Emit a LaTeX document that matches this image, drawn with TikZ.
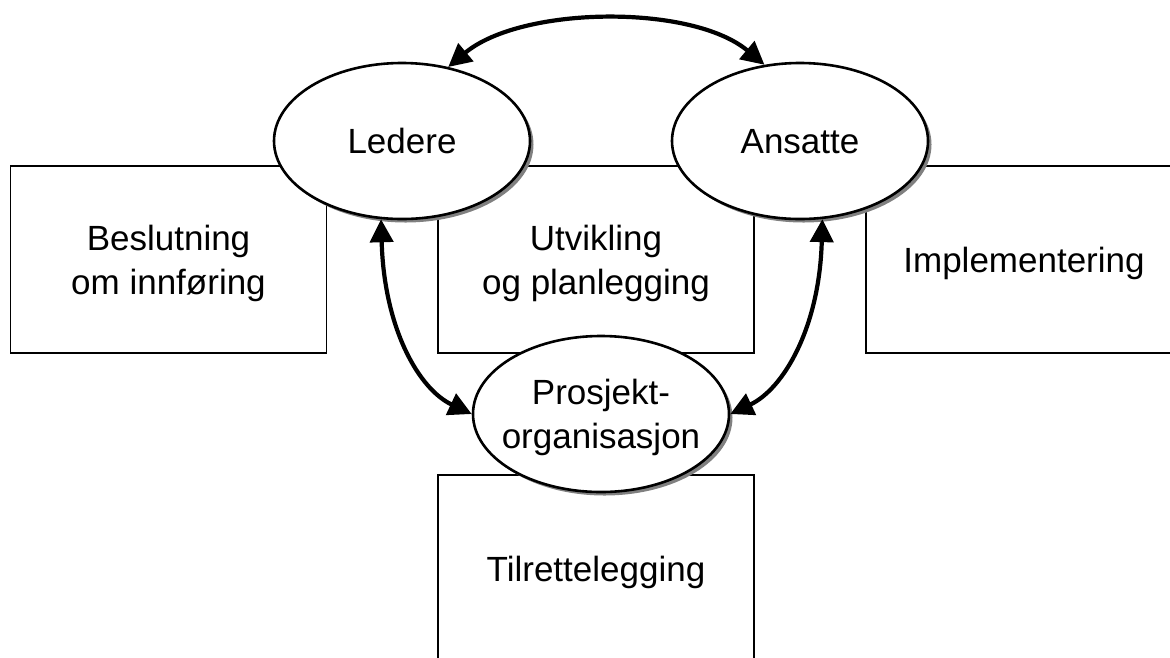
\documentclass[tikz,border=0pt]{standalone}
\usepackage{fontspec}
\setmainfont{Liberation Sans}
\usetikzlibrary{arrows.meta,shadows,shapes.geometric}
\begin{document}
\begin{tikzpicture}[x=1pt,y=-1pt,
  stage/.style={draw=black, line width=1.9pt, rectangle, minimum width=316pt, minimum height=187pt, align=center, inner sep=0pt, text depth=0pt, font=\fontsize{35}{44}\selectfont},
  actor/.style={ellipse, draw=black, line width=2.6pt, fill=white, minimum width=256pt, minimum height=156pt, inner xsep=-14pt, inner ysep=0pt, text depth=0pt, align=center, font=\fontsize{35}{44}\selectfont,
    drop shadow={shadow xshift=3.5pt, shadow yshift=-3.5pt, fill=black!50, opacity=1}},
  link/.style={line width=4.2pt, {Triangle[length=23pt,width=23pt]}-{Triangle[length=23pt,width=23pt]}}
]
\useasboundingbox (0,0) rectangle (1170,657);
\clip (0,0) rectangle (1170,657);
\node[stage] (dec) at (168.5,259.5) {Beslutning\\om innføring};
\node[stage] (dev) at (596,259.5) {Utvikling\\og planlegging};
\node[stage] (imp) at (1024,259.5) {Implementering};
\node[stage] (fac) at (596,568.5) {Tilrettelegging};
\node[actor] (led) at (402,141) {Ledere};
\node[actor] (ans) at (800,141) {Ansatte};
\node[actor] (pro) at (601,414) {Prosjekt-\\organisasjon};
\draw[link] (led.58) .. controls +(73,-61) and +(-73,-61) .. (ans.115);
\draw[link] (led.255) .. controls +(3,109) and +(-53,-25) .. (pro.180);
\draw[link] (ans.286) .. controls +(-3,109) and +(53,-25) .. (pro.0);
\end{tikzpicture}
\end{document}
